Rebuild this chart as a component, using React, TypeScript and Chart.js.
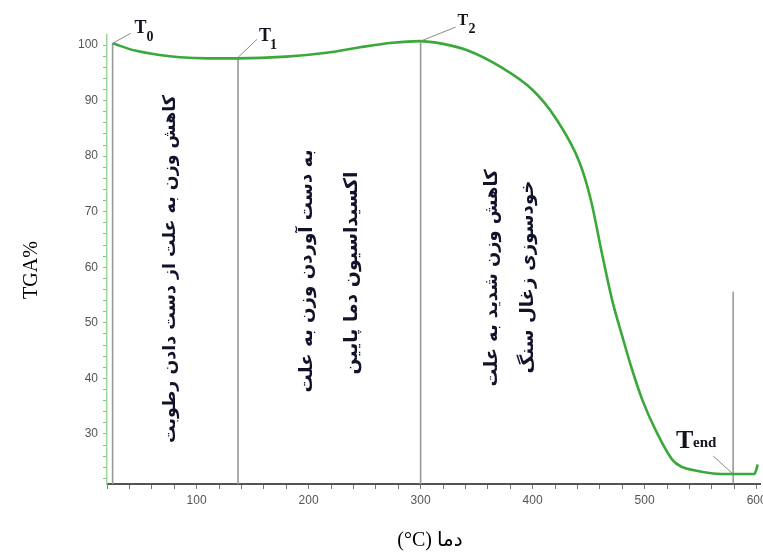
import React, { useEffect, useRef } from "react";
import { Chart, registerables } from "chart.js";

Chart.register(...registerables);

// ---- data ----
const temps = [25, 45, 67, 85, 110, 137, 180, 216, 246, 275, 299, 320, 341, 371, 400, 420, 442, 452, 462, 471, 480, 488, 498, 511, 525, 533, 543, 561, 579, 598, 601];
const tga = [100.3, 99.0, 98.2, 97.8, 97.6, 97.6, 97.9, 98.6, 99.6, 100.4, 100.7, 100.2, 99.1, 96.1, 91.9, 87.0, 78.8, 72.1, 62.4, 54.1, 47.6, 42.1, 36.1, 30.2, 25.3, 24.1, 23.5, 22.9, 22.8, 22.8, 24.5];

const markerTemps = [25, 137, 300, 579];
const markerTops = [100.3, 97.6, 100.7, 55.6];
const markerAnchors = [100.3, 97.6, 100.7, 22.8];
const markerSubs = ["0", "1", "2", "end"];

const xTickLabels = [100, 200, 300, 400, 500, 600];
const yTickLabels = [30, 40, 50, 60, 70, 80, 90, 100];

const xTitle = "(°C) دما";
const yTitle = "TGA%";

const notes = [
  "کاهش وزن به علت از دست دادن رطوبت",
  "به دست آوردن وزن به علت",
  "اکسیداسیون دما پایین",
  "کاهش وزن شدید به علت",
  "خودسوزی زغال سنگ",
];

const X_MIN = 20;
const X_MAX = 603;
const Y_MIN = 21;
const Y_MAX = 101.8;

// ---- styles / layout ----
const W = 763;
const H = 554;
const CURVE = "#3aa83a";
const MARK = "#9a9a9a";

const labelLayout = [
  { lead: [0, 0, 18, -10], t: [22, -10, 18], s: [34, -2, 14] },
  { lead: [0, -1, 19, -19], t: [21, -17, 18], s: [32, -9, 14] },
  { lead: [0, 0, 35, -14], t: [37, -16, 16], s: [48, -8, 14] },
  { lead: [-20, -18, 0, 0], t: [-57, -26, 26], s: [-40, -27, 15] },
];

// note layout: [cx, cy, length]
const noteLayout = [
  [170, 269, 348],
  [307, 271, 243],
  [352, 273, 203],
  [492, 278, 217],
  [528, 277, 193],
];

const overlay = {
  id: "overlay",
  afterDraw(chart: any) {
    const ctx = chart.ctx as CanvasRenderingContext2D;
    const xs = chart.scales.x;
    const ys = chart.scales.y;
    ctx.save();
    markerTemps.forEach((t, i) => {
      const px = xs.getPixelForValue(t);
      const py = ys.getPixelForValue(markerAnchors[i]);
      const L = labelLayout[i];
      ctx.strokeStyle = "#8a8a8a";
      ctx.lineWidth = 1;
      ctx.beginPath();
      ctx.moveTo(px + L.lead[0], py + L.lead[1]);
      ctx.lineTo(px + L.lead[2], py + L.lead[3]);
      ctx.stroke();
      ctx.fillStyle = "#141420";
      ctx.textAlign = "left";
      ctx.textBaseline = "alphabetic";
      ctx.font = `bold ${L.t[2]}px "Liberation Serif", serif`;
      ctx.fillText("T", px + L.t[0], py + L.t[1]);
      ctx.font = `bold ${L.s[2]}px "Liberation Serif", serif`;
      ctx.fillText(markerSubs[i], px + L.s[0], py + L.s[1]);
    });
    notes.forEach((txt, i) => {
      const [cx, cy, len] = noteLayout[i];
      ctx.save();
      ctx.font = `bold 16px "DejaVu Sans", sans-serif`;
      const w = ctx.measureText(txt).width;
      const fs = (16 * len) / w;
      ctx.font = `bold ${fs.toFixed(2)}px "DejaVu Sans", sans-serif`;
      ctx.translate(cx, cy);
      ctx.rotate(-Math.PI / 2);
      ctx.textAlign = "center";
      ctx.textBaseline = "middle";
      ctx.fillStyle = "#12122a";
      ctx.fillText(txt, 0, 0);
      ctx.restore();
    });
    ctx.fillStyle = "#000";
    ctx.font = `20px "Liberation Serif", "DejaVu Sans", serif`;
    ctx.textAlign = "center";
    ctx.textBaseline = "middle";
    ctx.fillText(xTitle, 430, 541);
    ctx.save();
    ctx.translate(32, 270);
    ctx.rotate(-Math.PI / 2);
    ctx.fillText(yTitle, 0, 0);
    ctx.restore();
    ctx.restore();
  },
};

function stepTicks(from: number, to: number, step: number) {
  const out: { value: number }[] = [];
  for (let v = from; v <= to + 1e-9; v += step) out.push({ value: v });
  return out;
}

export default function App() {
  const ref = useRef<HTMLCanvasElement>(null);
  useEffect(() => {
    if (!ref.current) return;
    const curve = temps.map((t, i) => ({ x: t, y: tga[i] }));
    const lines = markerTemps.map((t, i) => ({
      data: [
        { x: t, y: markerTops[i] },
        { x: t, y: Y_MIN },
      ],
      borderColor: i === 3 ? "#7a7a7a" : MARK,
      borderWidth: i === 3 ? 1.2 : 1.6,
      pointRadius: 0,
      tension: 0,
      order: 2,
      fill: false,
    }));
    const chart = new Chart(ref.current, {
      type: "line",
      data: {
        datasets: [
          {
            data: curve,
            borderColor: CURVE,
            borderWidth: 2.6,
            pointRadius: 0,
            cubicInterpolationMode: "monotone",
            order: 0,
            fill: false,
            clip: false,
          } as any,
          ...lines,
        ],
      },
      options: {
        animation: false,
        responsive: false,
        events: [],
        layout: { autoPadding: false, padding: { left: 0, top: 35, right: 3, bottom: 0 } },
        plugins: { legend: { display: false }, tooltip: { enabled: false } },
        scales: {
          x: {
            type: "linear",
            min: X_MIN,
            max: X_MAX,
            afterFit(s: any) {
              s.height = H - 484;
              s.paddingLeft = 0;
              s.paddingRight = 0;
            },
            afterBuildTicks(s: any) {
              s.ticks = stepTicks(20, 600, 20);
            },
            ticks: {
              autoSkip: false,
              maxRotation: 0,
              padding: 4,
              color: "#555",
              font: { family: "Liberation Sans", size: 12 },
              callback: (v: any) => (xTickLabels.includes(Math.round(v)) ? String(Math.round(v)) : ""),
            },
            grid: { drawOnChartArea: false, drawTicks: true, tickLength: 5, color: "#777" },
            border: { display: true, color: "#555", width: 2 },
          },
          y: {
            type: "linear",
            min: Y_MIN,
            max: Y_MAX,
            afterFit(s: any) {
              s.width = 107;
              s.paddingTop = 0;
              s.paddingBottom = 0;
            },
            afterBuildTicks(s: any) {
              s.ticks = stepTicks(22, 100, 2);
            },
            ticks: {
              autoSkip: false,
              padding: 5,
              color: "#555",
              font: { family: "Liberation Sans", size: 12 },
              callback: (v: any) => (yTickLabels.includes(Math.round(v)) ? String(Math.round(v)) : ""),
            },
            grid: { drawOnChartArea: false, drawTicks: true, tickLength: 4, color: "#7cc87c" },
            border: { display: true, color: "#9bd69b", width: 1.5, dash: [2, 2] },
          },
        },
      },
      plugins: [overlay],
    });
    return () => chart.destroy();
  }, []);
  return (
    <div style={{ position: "fixed", left: 0, top: 0, width: W, height: H, background: "#fff" }}>
      <canvas ref={ref} width={W} height={H} style={{ display: "block", width: W, height: H }} />
    </div>
  );
}
